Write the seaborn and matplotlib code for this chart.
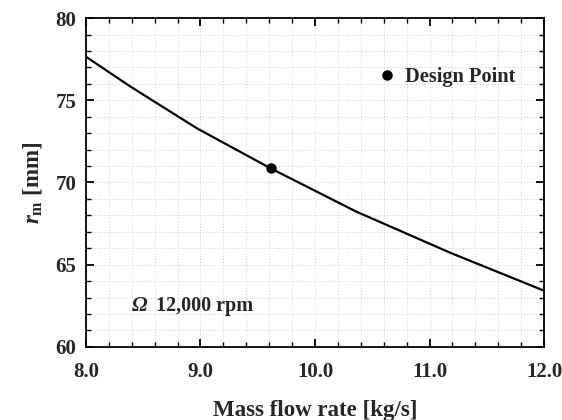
import numpy as np
import pandas as pd
import matplotlib
matplotlib.use("Agg")
import matplotlib.pyplot as plt
from matplotlib.ticker import MultipleLocator, FormatStrFormatter
import seaborn as sns

# Mean radius vs. mass flow rate at 12,000 rpm
mass_flow = [8.0, 8.38, 8.97, 9.61, 10.36, 11.18, 12.0]
radius_mm = [77.65, 75.87, 73.29, 70.87, 68.23, 65.73, 63.42]

design_flow = [9.613]
design_radius = [70.87]

sns.set_style("ticks")
plt.rcParams["font.family"] = ["Liberation Serif", "DejaVu Serif"]
plt.rcParams["font.weight"] = "bold"
plt.rcParams["mathtext.fontset"] = "custom"
plt.rcParams["mathtext.rm"] = "Liberation Serif:bold"
plt.rcParams["mathtext.it"] = "Liberation Serif:italic:bold"
plt.rcParams["mathtext.bf"] = "Liberation Serif:bold"

fig = plt.figure(figsize=(5.62, 4.20), dpi=100)
ax = fig.add_axes([0.153, 0.174, 0.815, 0.783])

df = pd.DataFrame({"flow": mass_flow, "r": radius_mm})
sns.lineplot(data=df, x="flow", y="r", ax=ax, color="black", linewidth=1.6,
             sort=False, legend=False)
ax.plot(design_flow, design_radius, "o", color="black", markersize=6.5,
        linestyle="none", label="Design Point", zorder=5)

ax.set_xlim(8.0, 12.0)
ax.set_ylim(60, 80)
ax.xaxis.set_major_locator(MultipleLocator(1.0))
ax.xaxis.set_minor_locator(MultipleLocator(0.2))
ax.yaxis.set_major_locator(MultipleLocator(5))
ax.yaxis.set_minor_locator(MultipleLocator(1))
ax.xaxis.set_major_formatter(FormatStrFormatter("%.1f"))

ax.grid(which="both", color="#cfcfcf", linestyle=(0, (1, 2)), linewidth=0.7)
ax.set_axisbelow(True)

ax.tick_params(which="both", direction="in", top=True, right=True,
               color="black", labelsize=15)
ax.tick_params(which="major", length=6, width=1.3)
ax.tick_params(which="minor", length=3.5, width=1.0)
ax.tick_params(axis="x", which="major", pad=11)
ax.tick_params(axis="y", which="major", pad=7)
for lbl in ax.get_xticklabels() + ax.get_yticklabels():
    lbl.set_fontweight("bold")

for spine in ax.spines.values():
    spine.set_linewidth(1.3)
    spine.set_color("black")

ax.set_xlabel("Mass flow rate [kg/s]", fontsize=16.5, fontweight="bold", labelpad=13)
ax.set_ylabel(r"$r_{\mathrm{m}}$ [mm]", fontsize=16.5, fontweight="bold", labelpad=8)

ax.text(8.40, 62.5, "Ω", fontsize=15, fontstyle="italic", fontweight="bold",
        ha="left", va="center")
ax.text(8.61, 62.5, "12,000 rpm", fontsize=14.5, fontweight="bold",
        ha="left", va="center")

leg = ax.legend(loc="center left", bbox_to_anchor=(0.59, 0.82), frameon=False,
                prop={"family": "Liberation Serif", "weight": "bold", "size": 14.7},
                handletextpad=0.3, handlelength=1.2, markerscale=1.0)

fig.savefig("out.png", dpi=100)
